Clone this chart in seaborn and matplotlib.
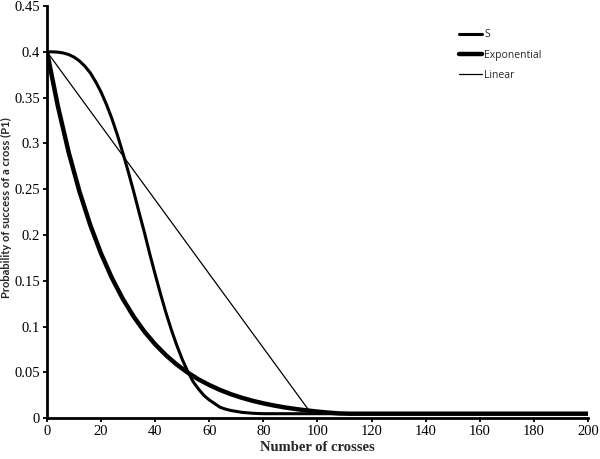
import numpy as np
import pandas as pd
import seaborn as sns
import matplotlib.pyplot as plt

# values
s_x = [0, 2, 4, 6, 8, 10, 12, 14, 16, 18, 20, 22, 24, 26, 28, 30, 32, 34, 36, 38, 40,
       42, 44, 46, 48, 50, 52, 54, 56, 58, 60, 62, 64, 66, 68, 70, 72, 74, 76, 78, 80, 200]
s_y = [0.4, 0.39995, 0.3996, 0.3987, 0.397, 0.3942, 0.390, 0.3843, 0.377, 0.3673, 0.356,
       0.3424, 0.327, 0.3094, 0.290, 0.2696, 0.248, 0.2252, 0.203, 0.1793, 0.157, 0.1354,
       0.115, 0.0964, 0.0795, 0.0644, 0.0512, 0.0401, 0.032, 0.025, 0.020, 0.016, 0.012,
       0.010, 0.0085, 0.0075, 0.0065, 0.006, 0.0055, 0.0052, 0.005, 0.005]

exp_x = [0, 4, 8, 12, 16, 20, 24, 28, 32, 36, 40, 44, 48, 52, 56, 60, 64, 68, 72, 76, 80,
         84, 88, 92, 96, 100, 104, 108, 112, 200]
exp_y = [0.4, 0.341, 0.2905, 0.2475, 0.2109, 0.1797, 0.1531, 0.1305, 0.1112, 0.0947, 0.0807,
         0.0688, 0.0586, 0.0499, 0.0425, 0.0363, 0.0309, 0.0263, 0.0224, 0.0191, 0.0163,
         0.0139, 0.0118, 0.0101, 0.0086, 0.0073, 0.0062, 0.0053, 0.005, 0.005]

lin_x = [0, 97, 99, 200]
lin_y = [0.4, 0.008, 0.005, 0.005]

x_ticks = [0, 20, 40, 60, 80, 100, 120, 140, 160, 180, 200]
y_ticks = [0, 0.05, 0.1, 0.15, 0.2, 0.25, 0.3, 0.35, 0.4, 0.45]
y_tick_labels = ["0", "0.05", "0.1", "0.15", "0.2", "0.25", "0.3", "0.35", "0.4", "0.45"]

sns.set_style("ticks")

fig = plt.figure(figsize=(6, 4.59), dpi=100)
ax = fig.add_axes([0.0783, 0.0887, 0.9017, 0.8983])

sns.lineplot(x=s_x, y=s_y, ax=ax, color="black", linewidth=2.2, label="S", sort=False)
sns.lineplot(x=exp_x, y=exp_y, ax=ax, color="black", linewidth=3.2, label="Exponential", sort=False)
sns.lineplot(x=lin_x, y=lin_y, ax=ax, color="black", linewidth=0.9, label="Linear", sort=False)

ax.set_xlim(0, 200)
ax.set_ylim(0, 0.45)
ax.set_xticks(x_ticks)
ax.set_yticks(y_ticks)
ax.set_yticklabels(y_tick_labels)
for lab in ax.get_xticklabels() + ax.get_yticklabels():
    lab.set_fontfamily("Liberation Serif")
    lab.set_fontsize(10.5)

sns.despine(ax=ax)
for side in ["left", "bottom"]:
    ax.spines[side].set_linewidth(2.0)
    ax.spines[side].set_color("black")
ax.tick_params(axis="both", direction="out", length=3, width=1.3, colors="black", pad=2)

ax.set_xlabel("Number of crosses", fontfamily="Liberation Serif", fontweight="bold",
              fontsize=10.5)
ax.xaxis.set_label_coords(0.5, -0.055)
ax.set_ylabel("Probability of success of a cross (P1)", fontfamily="Lato",
              fontweight="bold", fontsize=8)
ax.yaxis.set_label_coords(-0.065, 0.51)

leg = ax.legend(loc="upper left", bbox_to_anchor=(454 / 600, 1 - 24 / 459),
                bbox_transform=fig.transFigure, frameon=False, borderpad=0,
                handlelength=2.2, handletextpad=0.2, labelspacing=0.9,
                prop={"family": "Open Sans", "size": 7.5})

fig.savefig("out.png", dpi=100, facecolor="white")
